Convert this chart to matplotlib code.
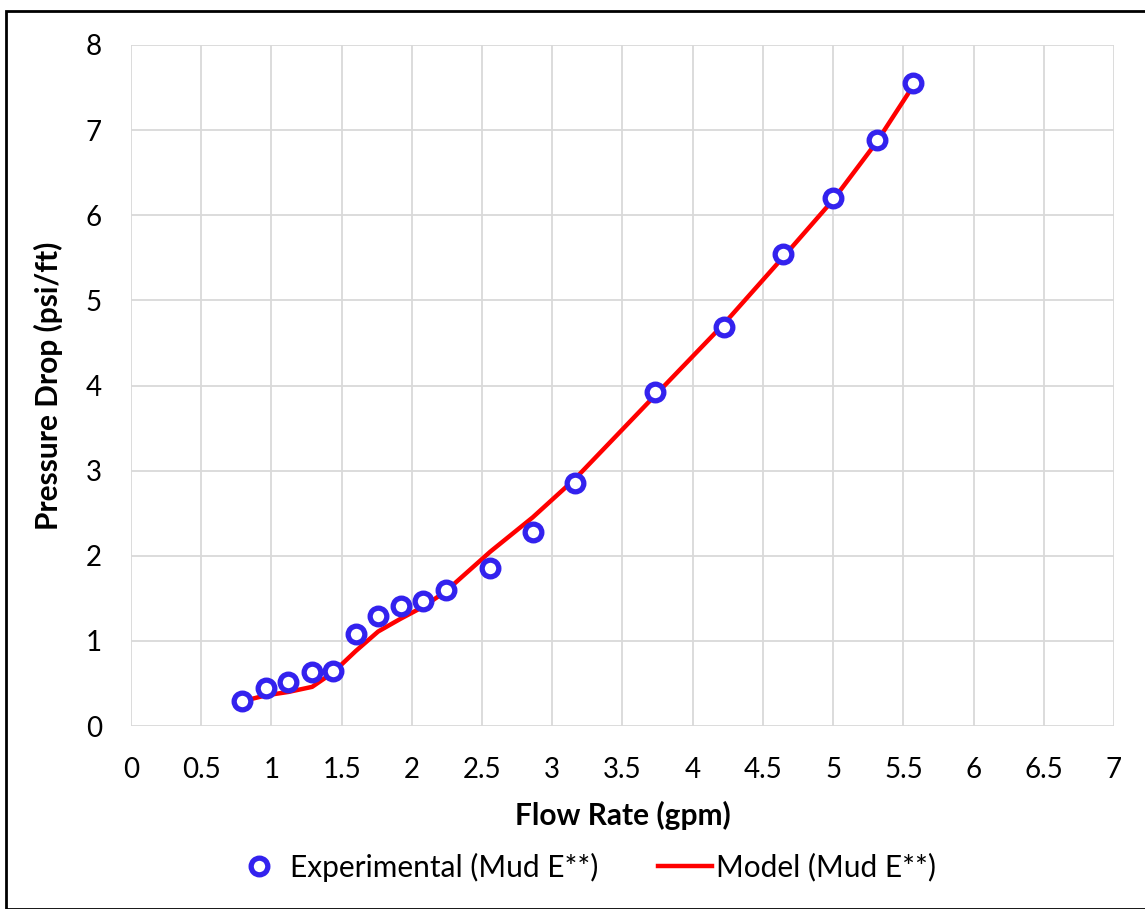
import matplotlib.pyplot as plt
from matplotlib.patches import Rectangle

plt.rcParams['font.family'] = ['Lato', 'DejaVu Sans']

# flow rate (gpm) and pressure drop (psi/ft)
flow_rate = [0.79, 0.96, 1.12, 1.29, 1.44, 1.60, 1.76, 1.92, 2.08, 2.24,
             2.56, 2.86, 3.16, 3.73, 4.22, 4.64, 5.00, 5.31, 5.57]
dp_exp = [0.29, 0.45, 0.52, 0.63, 0.65, 1.08, 1.29, 1.41, 1.47, 1.60,
          1.86, 2.28, 2.85, 3.92, 4.69, 5.54, 6.20, 6.88, 7.55]
dp_model = [0.29, 0.36, 0.40, 0.46, 0.63, 0.88, 1.11, 1.26, 1.40, 1.58,
            2.05, 2.45, 2.90, 3.88, 4.72, 5.50, 6.18, 6.86, 7.52]

x_ticks = [0, 0.5, 1, 1.5, 2, 2.5, 3, 3.5, 4, 4.5, 5, 5.5, 6, 6.5, 7]
y_ticks = [0, 1, 2, 3, 4, 5, 6, 7, 8]

fig = plt.figure(figsize=(11.45, 9.09), dpi=100)
fig.patches.append(Rectangle((0.005, 0.0), 1.0, 0.988, transform=fig.transFigure,
                             fill=False, edgecolor='black', linewidth=2))
ax = fig.add_axes([0.1144, 0.2013, 0.8585, 0.7492])

ax.plot(flow_rate, dp_model, color='#FF0000', linewidth=3.2,
        label='Model (Mud E**)', zorder=3)
ax.plot(flow_rate, dp_exp, linestyle='none', marker='o', markersize=12,
        markerfacecolor='white', markeredgecolor='#3322EE', markeredgewidth=3.8,
        label='Experimental (Mud E**)', zorder=4, clip_on=False)

ax.set_xlim(0, 7)
ax.set_ylim(0, 8)
ax.set_xticks(x_ticks)
ax.set_xticklabels([f'{t:g}' for t in x_ticks])
ax.set_yticks(y_ticks)
ax.grid(True, color='#D9D9D9', linewidth=1.3)
ax.set_axisbelow(True)
for s in ax.spines.values():
    s.set_visible(False)
ax.tick_params(length=0, labelsize=20)
ax.tick_params(axis='x', pad=22)
ax.tick_params(axis='y', pad=21)

ax.set_xlabel('Flow Rate (gpm)', fontsize=21.5, fontweight='bold', labelpad=13)
ax.set_ylabel('Pressure Drop (psi/ft)', fontsize=21.5, fontweight='bold', labelpad=16)

h, l = ax.get_legend_handles_labels()
fig.legend(h[::-1], l[::-1], loc='center', bbox_to_anchor=(0.51, 0.046), ncol=2,
           frameon=False, fontsize=21.5, handlelength=1.8, handletextpad=0.15,
           columnspacing=2.0)

fig.savefig('out.png', dpi=100)
